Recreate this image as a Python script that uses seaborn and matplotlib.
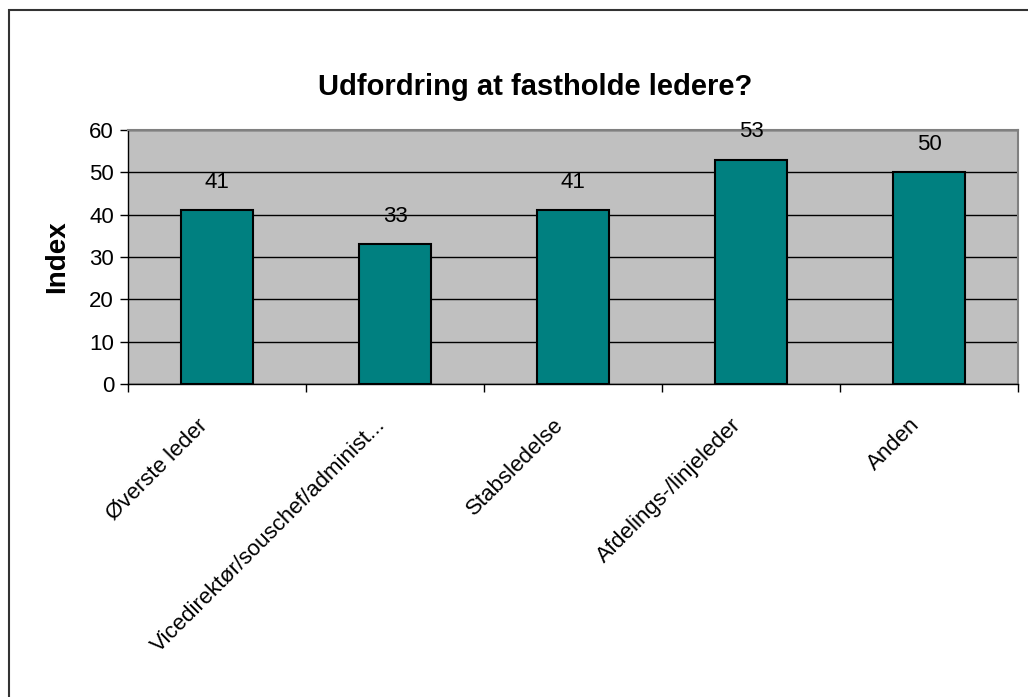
import matplotlib
matplotlib.use("Agg")
import matplotlib.pyplot as plt
import matplotlib.transforms as mtransforms
from matplotlib.patches import Rectangle
import seaborn as sns
import pandas as pd

categories = ["Øverste leder", "Vicedirektør/souschef/administ...", "Stabsledelse",
              "Afdelings-/linjeleder", "Anden"]
values = [41, 33, 41, 53, 50]
y_ticks = [0, 10, 20, 30, 40, 50, 60]

sns.set_theme(style="white")
plt.rcParams["font.family"] = ["Liberation Sans", "DejaVu Sans"]
plt.rcParams["text.color"] = "black"
plt.rcParams["axes.labelcolor"] = "black"
plt.rcParams["xtick.color"] = "black"
plt.rcParams["ytick.color"] = "black"

df = pd.DataFrame({"kategori": categories, "index": values})

fig = plt.figure(figsize=(10.28, 6.97), dpi=100)
fig.patch.set_facecolor("white")
ax = fig.add_axes([128 / 1028, 1 - 384 / 697, 890 / 1028, 254 / 697])
ax.set_facecolor("#C0C0C0")

sns.barplot(data=df, x="kategori", y="index", color="#008080", width=0.4,
            edgecolor="black", linewidth=1.5, saturation=1, ax=ax, zorder=3)

ax.set_ylim(0, 60)
ax.set_xlim(-0.5, len(categories) - 0.5)
ax.set_yticks(y_ticks)
ax.set_yticklabels([str(t) for t in y_ticks], fontsize=16)
ax.yaxis.grid(True, color="black", linewidth=1.0, zorder=0)
ax.set_axisbelow(True)

# category separators as x ticks, names as minor tick labels
ax.set_xticks([i - 0.5 for i in range(len(categories) + 1)], minor=False)
ax.set_xticklabels([""] * (len(categories) + 1))
ax.set_xticks(range(len(categories)), minor=True)
ax.set_xticklabels(categories, minor=True, rotation=45, ha="right",
                   rotation_mode="anchor", fontsize=16)
ax.tick_params(axis="x", which="minor", length=0, pad=14)
ax.tick_params(axis="x", which="major", length=6, width=1, color="black",
               direction="out", bottom=True)
ax.tick_params(axis="y", length=6, width=1, color="black", direction="out",
               left=True, pad=4)

# nudge the slanted labels down-left
shift = mtransforms.ScaledTranslation(-20 / 100, -11 / 100, fig.dpi_scale_trans)
for lbl in ax.get_xticklabels(minor=True):
    lbl.set_transform(lbl.get_transform() + shift)

for side in ["left", "bottom"]:
    ax.spines[side].set_color("black")
    ax.spines[side].set_linewidth(1.0)
for side in ["top", "right"]:
    ax.spines[side].set_color("#808080")
    ax.spines[side].set_linewidth(1.5)

for i, v in enumerate(values):
    ax.text(i, v + 6.6, str(v), ha="center", va="center", fontsize=16,
            color="black")

ax.set_xlabel("")
ax.set_ylabel("Index", fontsize=20, fontweight="bold", labelpad=14)
fig.text(535 / 1028, 1 - 87 / 697, "Udfordring at fastholde ledere?",
         ha="center", va="center", fontsize=21, fontweight="bold")

fig.patches.append(Rectangle((8.5 / 1028, -0.1), 1.1, 1 - 9.5 / 697 + 0.1,
                             transform=fig.transFigure, fill=False,
                             edgecolor="#333333", linewidth=1.5))

fig.savefig("out.png", dpi=100)
